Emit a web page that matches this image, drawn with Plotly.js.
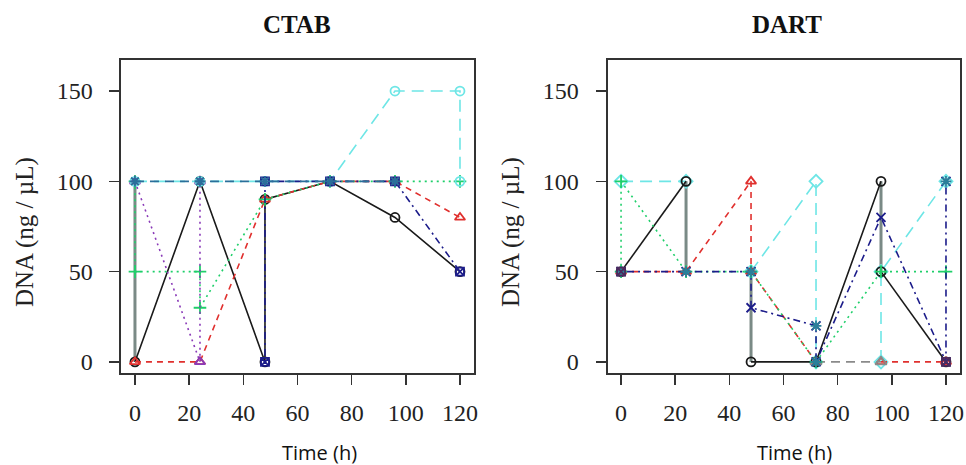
<!DOCTYPE html>
<html>
<head>
<meta charset="utf-8">
<script src="https://cdn.plot.ly/plotly-3.0.1.min.js"></script>
<style>html,body{margin:0;padding:0;background:#fff;}#chart{width:966px;height:465px;}</style>
</head>
<body>
<div id="chart"></div>
<script>
// ---------- DATA ----------
const panelTitles = ["CTAB", "DART"];
const xTickVals = [0, 20, 40, 60, 80, 100, 120];
const yTickVals = [0, 50, 100, 150];
const xLabel = "Time (h)";
const yLabel = "DNA (ng / \u00b5L)";

// CTAB panel (time in h, DNA in ng/uL)
const ctabBlackT  = [0, 24, 48, 48, 72, 96, 120];
const ctabBlackY  = [0, 100, 0, 90, 100, 80, 50];
const ctabRedT    = [0, 24, 48, 72, 96, 120];
const ctabRedY    = [0, 0, 90, 100, 100, 80];
const ctabGreenT  = [0, 0, 24, 24, 48, 72, 96, 120];
const ctabGreenY  = [100, 50, 50, 30, 90, 100, 100, 100];
const ctabPurpleT = [0, 24, 24];
const ctabPurpleY = [100, 0, 100];
const ctabNavyT   = [48, 48, 72, 96, 120];
const ctabNavyY   = [0, 100, 100, 100, 50];
const ctabCyanT   = [0, 24, 48, 72, 96, 120, 120];
const ctabCyanY   = [100, 100, 100, 100, 150, 150, 100];
const ctabSteelT  = [0, 24, 48, 72, 96];
const ctabSteelY  = [100, 100, 100, 100, 100];
const ctabGrayT   = [0, 0];
const ctabGrayY   = [100, 0];

// DART panel
const dartBlackT  = [0, 24, null, 48, 72, 96, null, 96, 120];
const dartBlackY  = [50, 100, null, 0, 0, 100, null, 50, 0];
const dartGrayT   = [24, 24, null, 48, 48, null, 96, 96];
const dartGrayY   = [100, 50, null, 50, 0, null, 100, 50];
const dartRedT    = [0, 24, 48, 48, 72, null, 96, 120];
const dartRedY    = [50, 50, 100, 50, 0, null, 0, 0];
const dartSilverT = [72, 96];
const dartSilverY = [0, 0];
const dartGreenT  = [0, 0, 24, 48, 72, 96, 120];
const dartGreenY  = [50, 100, 50, 50, 0, 50, 50];
const dartNavyT   = [0, 24, 48, 48, 72, 72, 96, 120, 120];
const dartNavyY   = [50, 50, 50, 30, 20, 0, 80, 0, 100];
const dartCyanT   = [0, 24, null, 48, 72, 72, null, 96, 96, 120];
const dartCyanY   = [100, 100, null, 50, 100, 0, null, 0, 50, 100];
const dartSteelT  = [0, 24, 48, 72, 72, 120];
const dartSteelY  = [50, 50, 50, 20, 0, 100];
const dartMaroonT = [0, 120];
const dartMaroonY = [50, 0];

// ---------- STYLES ----------
const S = {
  black:  {color: "#1a1a1a", dash: "solid", symbol: "circle-open", mode: "lines+markers"},
  red:    {color: "#e0302e", dash: "6px,5px", symbol: "triangle-up-open", mode: "lines+markers"},
  green:  {color: "#1fcf6a", dash: "2px,4px", symbol: "cross-thin-open", mode: "lines+markers"},
  purple: {color: "#8a3ab8", dash: "2px,4px", symbol: "triangle-up-open", mode: "lines+markers"},
  navy:   {color: "#1c1c8a", dash: "2px,4px,7px,4px", symbol: "x-thin-open", mode: "lines+markers"},
  navyB:  {color: "#1c1c8a", dash: "2px,4px,7px,4px", symbol: "square-x-open", mode: "lines+markers", size: 8},
  cyan:   {color: "#6ee6e6", dash: "12px,7px", symbol: "circle-open", mode: "lines+markers"},
  cyanD:  {color: "#6ee6e6", dash: "12px,7px", symbol: "diamond-open", mode: "lines+markers", size: 10},
  steel:  {color: "#2a6f9a", dash: "9px,6px", symbol: "asterisk-open", mode: "lines+markers"},
  gray:   {color: "#7a8a86", dash: "solid", symbol: "circle-open", mode: "lines", width: 3},
  silver: {color: "#8a8a8a", dash: "9px,6px", symbol: "triangle-up-open", mode: "lines+markers", size: 10},
  steelM: {color: "#2a7f9a", dash: "solid", symbol: "asterisk-open", mode: "markers"},
  maroon: {color: "#4a2a5e", dash: "solid", symbol: "square-x-open", mode: "markers", size: 8}
};

function tr(t, y, st, ax) {
  const s = S[st];
  return {
    type: "scatter", x: t, y: y, mode: s.mode, xaxis: ax[0], yaxis: ax[1],
    connectgaps: false, hoverinfo: "skip", showlegend: false,
    line: {color: s.color, dash: s.dash, width: s.width || 1.6},
    marker: {symbol: s.symbol, size: s.size || 9, color: s.color, line: {color: s.color, width: 1.8}}
  };
}
const A1 = ["x", "y"], A2 = ["x2", "y2"];
const data = [
  tr(ctabGrayT, ctabGrayY, "gray", A1),
  tr(ctabBlackT, ctabBlackY, "black", A1),
  tr(ctabRedT, ctabRedY, "red", A1),
  tr(ctabGreenT, ctabGreenY, "green", A1),
  tr(ctabPurpleT, ctabPurpleY, "purple", A1),
  tr(ctabCyanT, ctabCyanY, "cyan", A1),
  tr(ctabNavyT, ctabNavyY, "navyB", A1),
  tr(ctabSteelT, ctabSteelY, "steel", A1),

  tr(dartGrayT, dartGrayY, "gray", A2),
  tr(dartCyanT, dartCyanY, "cyanD", A2),
  tr(dartBlackT, dartBlackY, "black", A2),
  tr(dartRedT, dartRedY, "red", A2),
  tr(dartSilverT, dartSilverY, "silver", A2),
  tr(dartGreenT, dartGreenY, "green", A2),
  tr(dartNavyT, dartNavyY, "navy", A2),
  tr(dartSteelT, dartSteelY, "steelM", A2),
  tr(dartMaroonT, dartMaroonY, "maroon", A2)
];

const serif = "Liberation Serif, Times New Roman, serif";
function xax(dom) {
  return {domain: dom, range: [-5, 125], tickvals: xTickVals, ticktext: xTickVals.map(String),
    ticks: "outside", ticklen: 10, tickwidth: 1.5, tickcolor: "#333",
    showline: true, mirror: true, linecolor: "#333", linewidth: 2,
    showgrid: false, zeroline: false, fixedrange: true, ticklabelstandoff: 7,
    tickfont: {family: serif, size: 24, color: "#222"}};
}
function yax(anchor) {
  return {domain: [0.198, 0.871], range: [-6.1, 167.2], tickvals: yTickVals, ticktext: yTickVals.map(String),
    anchor: anchor, ticks: "outside", ticklen: 10, tickwidth: 1.5, tickcolor: "#333",
    showline: true, mirror: true, linecolor: "#333", linewidth: 2,
    showgrid: false, zeroline: false, fixedrange: true, ticklabelstandoff: 12,
    tickfont: {family: serif, size: 24, color: "#222"}};
}
const d1 = [0.1257, 0.4902], d2 = [0.6289, 0.9933];
const layout = {
  width: 966, height: 465, margin: {l: 0, r: 0, t: 0, b: 0},
  paper_bgcolor: "#fff", plot_bgcolor: "#fff",
  xaxis: Object.assign(xax(d1), {anchor: "y"}),
  yaxis: yax("x"),
  xaxis2: Object.assign(xax(d2), {anchor: "y2"}),
  yaxis2: yax("x2"),
  annotations: [
    {text: "<b>" + panelTitles[0] + "</b>", x: (d1[0] + d1[1]) / 2, y: 0.948, xref: "paper", yref: "paper",
     showarrow: false, xanchor: "center", yanchor: "middle", font: {family: serif, size: 25, color: "#111"}},
    {text: "<b>" + panelTitles[1] + "</b>", x: (d2[0] + d2[1]) / 2 + 0.004, y: 0.948, xref: "paper", yref: "paper",
     showarrow: false, xanchor: "center", yanchor: "middle", font: {family: serif, size: 25, color: "#111"}},
    {text: xLabel, x: 319 / 966, y: 13 / 465, xref: "paper", yref: "paper", showarrow: false,
     xanchor: "center", yanchor: "middle", font: {family: "Open Sans, sans-serif", size: 20, color: "#111"}},
    {text: xLabel, x: 794 / 966, y: 13 / 465, xref: "paper", yref: "paper", showarrow: false,
     xanchor: "center", yanchor: "middle", font: {family: "Open Sans, sans-serif", size: 20, color: "#111"}},
    {text: yLabel, x: 25 / 966, y: (465 - 232) / 465, xref: "paper", yref: "paper", showarrow: false, textangle: -90,
     xanchor: "center", yanchor: "middle", font: {family: serif, size: 25, color: "#222"}},
    {text: yLabel, x: 511 / 966, y: (465 - 232) / 465, xref: "paper", yref: "paper", showarrow: false, textangle: -90,
     xanchor: "center", yanchor: "middle", font: {family: serif, size: 25, color: "#222"}}
  ]
};
Plotly.newPlot("chart", data, layout, {staticPlot: true, displayModeBar: false});
</script>
</body>
</html>
